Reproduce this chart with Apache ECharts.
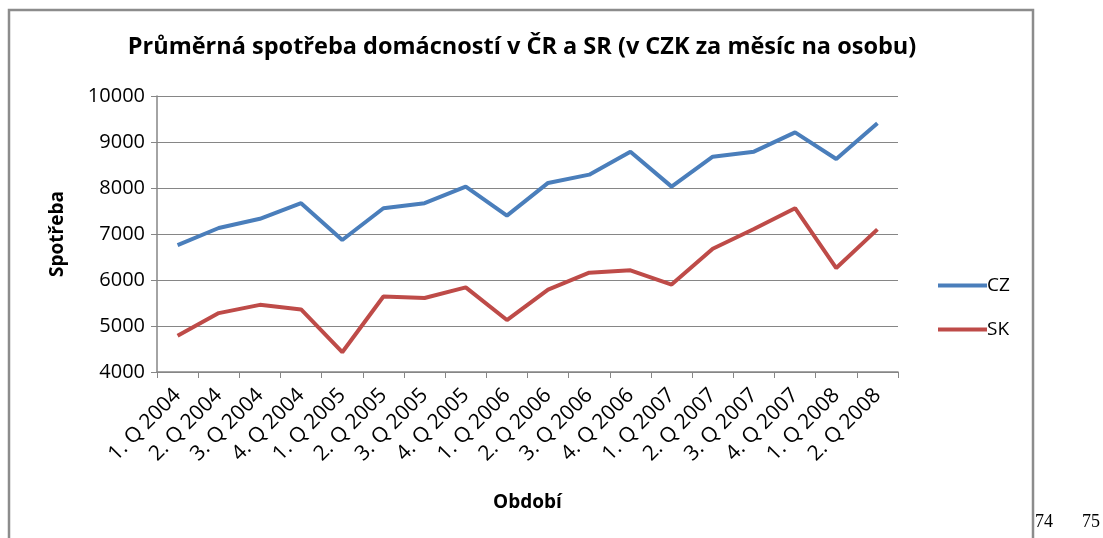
<!DOCTYPE html>
<html>
<head>
<meta charset="utf-8">
<script src="https://cdn.jsdelivr.net/npm/echarts@6/dist/echarts.min.js"></script>
<style>
  html, body { margin: 0; padding: 0; background: #fff; }
  #chart { width: 1103px; height: 538px; }
</style>
</head>
<body>
<div id="chart"></div>
<script>
const categories = [
  '1. Q 2004', '2. Q 2004', '3. Q 2004', '4. Q 2004',
  '1. Q 2005', '2. Q 2005', '3. Q 2005', '4. Q 2005',
  '1. Q 2006', '2. Q 2006', '3. Q 2006', '4. Q 2006',
  '1. Q 2007', '2. Q 2007', '3. Q 2007', '4. Q 2007',
  '1. Q 2008', '2. Q 2008'
];
const czValues = [6760, 7130, 7330, 7670, 6870, 7560, 7670, 8030, 7400, 8110, 8290, 8790, 8030, 8680, 8790, 9210, 8630, 9410];
const skValues = [4790, 5280, 5460, 5360, 4430, 5640, 5610, 5840, 5130, 5790, 6160, 6210, 5900, 6680, 7110, 7560, 6260, 7100];
const pageNumbers = ['74', '75'];

const font = 'Open Sans';
const chart = echarts.init(document.getElementById('chart'));

chart.setOption({
  animation: false,
  color: ['#4a7ebb', '#be4b48'],
  title: {
    text: 'Průměrná spotřeba domácností v ČR a SR (v CZK za měsíc na osobu)',
    left: 517,
    textAlign: 'center',
    top: 30,
    textStyle: { fontFamily: font, fontSize: 23.5, fontWeight: 'bold', color: '#000' }
  },
  legend: {
    orient: 'vertical',
    left: 933,
    top: 271,
    itemWidth: 49,
    itemHeight: 4,
    itemGap: 25,
    icon: 'rect',
    textStyle: { fontFamily: font, fontSize: 19, color: '#000', padding: [0, 0, 0, -5] },
    data: ['CZ', 'SK']
  },
  grid: { left: 157, right: 205, top: 96, bottom: 166 },
  xAxis: {
    type: 'category',
    data: categories,
    boundaryGap: true,
    name: 'Období',
    nameLocation: 'middle',
    nameGap: 121,
    nameTextStyle: { fontFamily: font, fontSize: 19, fontWeight: 'bold', color: '#000' },
    axisLine: { lineStyle: { color: '#868686', width: 1.5 } },
    axisTick: { show: true, length: 6, interval: 0, lineStyle: { color: '#868686' } },
    axisLabel: {
      interval: 0,
      rotate: 45,
      margin: 20,
      fontFamily: font,
      fontSize: 21,
      color: '#000'
    }
  },
  yAxis: {
    type: 'value',
    min: 4000,
    max: 10000,
    interval: 1000,
    name: 'Spotřeba',
    nameLocation: 'middle',
    nameGap: 90,
    nameTextStyle: { fontFamily: font, fontSize: 19, fontWeight: 'bold', color: '#000' },
    axisLine: { show: true, lineStyle: { color: '#868686', width: 1.5 } },
    axisTick: { show: true, length: 6, lineStyle: { color: '#868686' } },
    axisLabel: {
      fontFamily: font,
      fontSize: 20,
      color: '#000',
      margin: 12,
      formatter: (v) => String(v)
    },
    splitLine: { lineStyle: { color: '#868686', width: 1.2 } }
  },
  series: [
    {
      name: 'CZ',
      type: 'line',
      data: czValues,
      symbol: 'none',
      lineStyle: { width: 4 }
    },
    {
      name: 'SK',
      type: 'line',
      data: skValues,
      symbol: 'none',
      lineStyle: { width: 4 }
    }
  ],
  graphic: [
    {
      type: 'rect',
      shape: { x: 9, y: 10, width: 1024, height: 540 },
      style: { fill: 'none', stroke: '#8c8c8c', lineWidth: 2.5 },
      silent: true
    },
    {
      type: 'text',
      left: 1035,
      top: 513,
      style: { text: pageNumbers[0], fontFamily: 'Liberation Serif', fontSize: 18, fill: '#000' }
    },
    {
      type: 'text',
      left: 1082,
      top: 513,
      style: { text: pageNumbers[1], fontFamily: 'Liberation Serif', fontSize: 18, fill: '#000' }
    }
  ]
});
</script>
</body>
</html>
